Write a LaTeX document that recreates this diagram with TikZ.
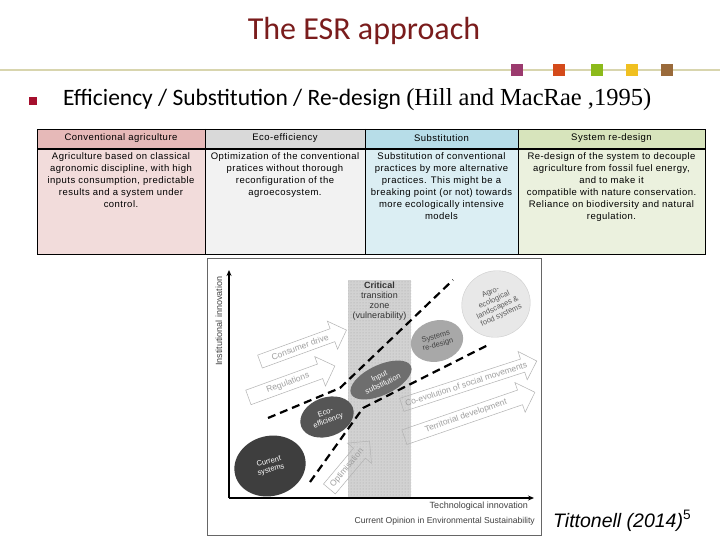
\documentclass[tikz,border=0pt]{standalone}
\usepackage{fontspec}
\setmainfont{Liberation Sans}
\newfontfamily\calibri{Carlito}
\newfontfamily\timesf{Liberation Serif}
\newfontfamily\tabfont[LetterSpace=5]{Liberation Sans}
\usetikzlibrary{shapes.geometric,shapes.arrows,arrows.meta,patterns}
\definecolor{titlered}{HTML}{7A1C1C}
\definecolor{ruleline}{HTML}{D8D5AE}
\definecolor{bulletred}{HTML}{A50F2D}
\definecolor{sqA}{HTML}{9B3A6E}
\definecolor{sqB}{HTML}{D44A1A}
\definecolor{sqC}{HTML}{8CBA1A}
\definecolor{sqD}{HTML}{F0C020}
\definecolor{sqE}{HTML}{9A6A3A}
\definecolor{hA}{HTML}{E6B9B8}
\definecolor{bA}{HTML}{F2DCDB}
\definecolor{hB}{HTML}{D9D9D9}
\definecolor{bB}{HTML}{F2F2F2}
\definecolor{hC}{HTML}{B7DDE8}
\definecolor{bC}{HTML}{DBEEF3}
\definecolor{hD}{HTML}{D7E4BC}
\definecolor{bD}{HTML}{EBF1DE}
\definecolor{zonegray}{HTML}{D2D2D2}
\definecolor{elA}{HTML}{3E3E3E}
\definecolor{elB}{HTML}{555555}
\definecolor{elC}{HTML}{6E6E6E}
\definecolor{elD}{HTML}{A8A8A8}
\definecolor{elE}{HTML}{E8E8E8}
\begin{document}
\begin{tikzpicture}[x=1pt,y=-1pt,
  sq/.style={fill=#1,draw=none,minimum size=12pt,inner sep=0pt},
  hdr/.style={font=\tabfont\fontsize{9.5}{10}\selectfont,anchor=center},
  body/.style={font=\tabfont\fontsize{9.5}{12}\selectfont,anchor=north,align=center,inner sep=0pt},
  harrow/.style={single arrow,draw=gray!60,line width=0.5pt,
    single arrow head extend=8pt,inner sep=3.5pt,text=gray!75,
    font=\fontsize{8.5}{9}\selectfont},
  elli/.style={ellipse,draw=none,fill=#1,inner sep=0pt,align=center,
    font=\fontsize{7.5}{8.5}\selectfont},
  dline/.style={line width=2.2pt,dash pattern=on 8pt off 5pt},
  figtext/.style={font=\fontsize{9}{10}\selectfont,text=black!75,inner sep=0pt}]
\useasboundingbox (0,0) rectangle (720,540);
\fill[white] (0,0) rectangle (720,540);

% title
\node[font=\calibri\fontsize{32}{34}\selectfont,text=titlered] (title) at (364,31) {The ESR approach};
% rule line and squares
\draw[ruleline,line width=2pt] (0,70) -- (720,70);
\node[sq=sqA] (s1) at (517,70) {};
\node[sq=sqB] (s2) at (559,70) {};
\node[sq=sqC] (s3) at (597,70) {};
\node[sq=sqD] (s4) at (632,70) {};
\node[sq=sqE] (s5) at (667,70) {};
% bullet
\node[fill=bulletred,minimum size=8pt,inner sep=0pt] (bul) at (33,101) {};
\node[anchor=west,inner sep=0pt] (btext) at (63,100)
  {\calibri\fontsize{23.5}{26}\selectfont Efficiency / Substitution / Re-design \timesf\fontsize{24.5}{26}\selectfont(Hill and MacRae ,1995)};

% table
\fill[hA] (37,129) rectangle (205,148);
\fill[hB] (205,129) rectangle (365,148);
\fill[hC] (365,129) rectangle (518,148);
\fill[hD] (518,129) rectangle (705,148);
\fill[bA] (37,150) rectangle (205,254);
\fill[bB] (205,150) rectangle (365,254);
\fill[bC] (365,150) rectangle (518,254);
\fill[bD] (518,150) rectangle (705,254);
\draw[black,line width=0.8pt] (37,129) rectangle (705,254);
\draw[black,line width=0.8pt] (205,129) -- (205,254) (365,129) -- (365,254) (518,129) -- (518,254);
\draw[black,line width=2.2pt] (37,149) -- (705,149);
\node[hdr] (h1) at (121,138.5) {Conventional agriculture};
\node[hdr] (h2) at (285,138.5) {Eco-efficiency};
\node[hdr] (h3) at (441.5,138.5) {Substitution};
\node[hdr] (h4) at (611.5,138.5) {System re-design};
\node[body] (c1) at (121,152.5) {Agriculture based on classical\\agronomic discipline, with high\\inputs consumption, predictable\\results and a system under\\control.};
\node[body] (c2) at (285,152.5) {Optimization of the conventional\\pratices without thorough\\reconfiguration of the\\agroecosystem.};
\node[body] (c3) at (441.5,152.5) {Substitution of conventional\\practices by more alternative\\practices. This might be a\\breaking point (or not) towards\\more ecologically intensive\\models};
\node[body] (c4) at (611.5,152.5) {Re-design of the system to decouple\\agriculture from fossil fuel energy,\\and to make it\\compatible with nature conservation.\\Reliance on biodiversity and natural\\regulation.};

% figure frame
\draw[black!60,line width=0.8pt] (207,258) rectangle (541,535);
% critical zone
\fill[zonegray] (348,280) rectangle (411,498);
\fill[pattern=dots,pattern color=gray!70] (348,280) rectangle (411,498);
\node[font=\fontsize{9}{10}\selectfont,align=center,text=black!80,anchor=north,inner sep=0pt] (zone) at (379.5,282)
  {\textbf{Critical}\\transition\\zone\\(vulnerability)};
% axes
\coordinate (O) at (229,498);
\coordinate (Ytop) at (229,270);
\coordinate (Xend) at (534,498);
\draw[line width=1.1pt,-{Stealth[length=6pt,width=5pt]}] (O) -- (Ytop);
\draw[line width=1.1pt,-{Stealth[length=6pt,width=5pt]}] (O) -- (Xend);
\node[figtext,rotate=90] (ylab) at (219,321) {Institutional innovation};
\node[figtext,anchor=east] (xlab) at (528,506) {Technological innovation};
\node[figtext,anchor=east,font=\fontsize{8.6}{10}\selectfont] (src) at (535,521) {Current Opinion in Environmental Sustainability};

% hollow arrows
\node[harrow,minimum height=92pt,rotate=20] (consumer) at (300,347) {Consumer drive};
\node[harrow,minimum height=92pt,rotate=20] (regul) at (288,383) {Regulations};
\node[harrow,minimum height=138pt,rotate=18] (coevo) at (466,384) {Co-evolution of social movements};
\node[harrow,minimum height=138pt,rotate=19] (terri) at (466,416) {Territorial development};
\node[harrow,minimum height=62pt,rotate=50] (optim) at (347,468) {Optimisation};

% dashed lines
\coordinate (u1) at (268,418);
\coordinate (u2) at (340,388);
\coordinate (u3) at (453,280);
\coordinate (l1) at (310,482);
\coordinate (l2) at (363,408);
\coordinate (l3) at (490,344);
\draw[dline] (u1) -- (u2) -- (u3);
\draw[dline] (l1) -- (l2) -- (l3);

% ellipses
\node[elli=elA,minimum width=72pt,minimum height=60pt,rotate=15,text=white] (cur) at (270,466) {Current\\systems};
\node[elli=elB,minimum width=55pt,minimum height=39pt,rotate=20,text=white] (eco) at (327,417) {Eco-\\efficiency};
\node[elli=elC,minimum width=66pt,minimum height=30pt,rotate=25,text=white] (inp) at (381,380) {Input\\substitution};
\node[elli=elD,minimum width=53pt,minimum height=41pt,rotate=15,text=black!75] (sys) at (437,341) {Systems\\re-design};
\node[elli=elE,draw=gray!40,minimum width=69pt,minimum height=66pt,rotate=25,text=black!65,font=\fontsize{7.5}{8.5}\selectfont] (agro) at (496,304) {Agro-\\ecological\\landscapes \&\\food systems};

% citation
\node[anchor=base west,inner sep=0pt] (cite) at (553,527)
  {\fontsize{19.5}{22}\selectfont\textit{Tittonell (2014)}\textsuperscript{5}};
\end{tikzpicture}
\end{document}
